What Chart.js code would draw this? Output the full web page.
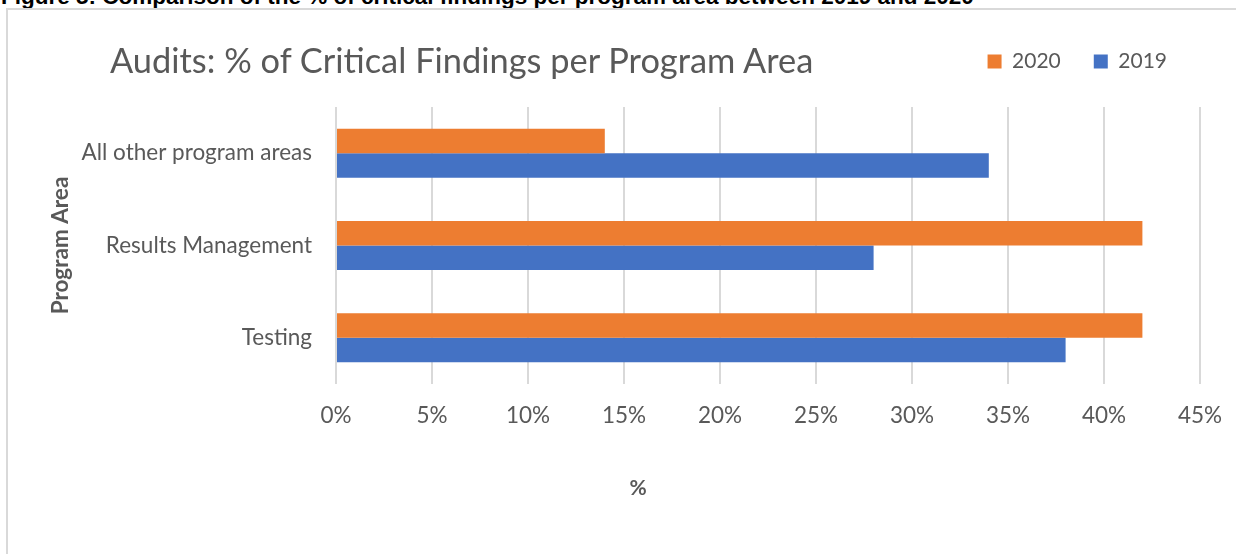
<!DOCTYPE html>
<html>
<head>
<meta charset="utf-8">
<script src="https://cdn.jsdelivr.net/npm/chart.js@4"></script>
<style>
  body { margin: 0; background: #fff; width: 1236px; height: 554px; overflow: hidden; position: relative; }
  #caption { position: absolute; left: 1px; top: -16px; font: bold 22.5px "Liberation Sans", Arial, sans-serif; color: #000; white-space: nowrap; }
  #frame { position: absolute; left: 6px; top: 8px; width: 1300px; height: 600px; border-left: 2px solid #d9d9d9; border-top: 2px solid #d9d9d9; }
  #title { position: absolute; left: 110px; top: 39px; font: 34.4px Lato, "Noto Sans", sans-serif; color: #595959; white-space: nowrap; }
  #xtitle { position: absolute; left: 638px; top: 486px; transform: translate(-50%, -50%); font: bold 21px Lato, "Noto Sans", sans-serif; color: #595959; }
  #wrap { position: absolute; left: 0; top: 0; width: 1236px; height: 554px; }
</style>
</head>
<body>
<div id="caption">Figure 5: Comparison of the % of critical findings per program area between 2019 and 2020</div>
<div id="frame"></div>
<div id="wrap"><canvas id="chart"></canvas></div>
<div id="title">Audits: % of Critical Findings per Program Area</div>
<div id="xtitle">%</div>
<script>
  const categories = ["All other program areas", "Results Management", "Testing"];
  const values2020 = [14, 42, 42];
  const values2019 = [34, 28, 38];
  const xTicks = [0, 5, 10, 15, 20, 25, 30, 35, 40, 45];

  const textColor = "#595959";
  const gridColor = "#d9d9d9";
  const fontFamily = "Lato, 'Noto Sans', sans-serif";

  // leave some room between the legend row and the plot
  const legendGap = {
    id: "legendGap",
    afterInit(chart) {
      const legend = chart.legend;
      const fit = legend.fit;
      legend.fit = function () {
        fit.call(this);
        this.height += 25;
      };
    },
  };

  new Chart(document.getElementById("chart").getContext("2d"), {
    type: "bar",
    data: {
      labels: categories,
      datasets: [
        {
          label: "2020",
          data: values2020,
          backgroundColor: "#ED7D31",
        },
        {
          label: "2019",
          data: values2019,
          backgroundColor: "#4472C4",
        },
      ],
    },
    plugins: [legendGap],
    options: {
      indexAxis: "y",
      responsive: true,
      maintainAspectRatio: false,
      animation: false,
      layout: {
        padding: { top: 18, right: 36, bottom: 107, left: 47 },
      },
      datasets: {
        bar: { categoryPercentage: 0.53, barPercentage: 1 },
      },
      plugins: {
        tooltip: { enabled: false },
        legend: {
          position: "top",
          align: "end",
          labels: {
            boxWidth: 14,
            boxHeight: 14,
            padding: 33,
            color: textColor,
            font: { family: fontFamily, size: 21 },
          },
        },
      },
      scales: {
        x: {
          min: 0,
          max: 45,
          afterBuildTicks: (axis) => {
            axis.ticks = xTicks.map((v) => ({ value: v }));
          },
          afterFit: (axis) => {
            axis.paddingRight = 0;
          },
          grid: { color: gridColor, lineWidth: 2, drawTicks: false },
          border: { display: false },
          ticks: {
            color: textColor,
            padding: 18,
            font: { family: fontFamily, size: 22.5 },
            callback: (v) => v + "%",
          },
        },
        y: {
          afterFit: (axis) => {
            axis.width = 289;
          },
          grid: { display: false, drawTicks: false },
          border: { display: false },
          ticks: {
            color: textColor,
            padding: 24,
            font: { family: fontFamily, size: 22.5 },
          },
          title: {
            display: true,
            text: "Program Area",
            color: textColor,
            padding: { top: 0, bottom: 10 },
            font: { family: fontFamily, size: 22.5, weight: "bold" },
          },
        },
      },
    },
  });
</script>
</body>
</html>
